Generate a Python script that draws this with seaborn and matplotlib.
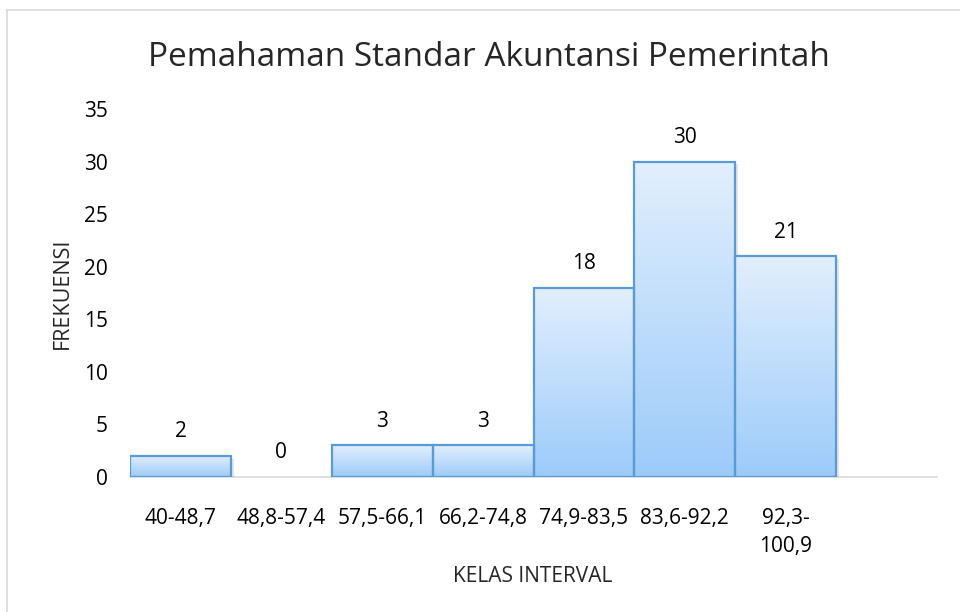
"""
bar chart of frequency per interval class with gradient bars
"""

import numpy as np
import pandas as pd
import seaborn as sns
from matplotlib import pyplot as plt
from matplotlib.colors import LinearSegmentedColormap
from matplotlib.lines import Line2D

# data
kelas = ["40-48,7", "48,8-57,4", "57,5-66,1", "66,2-74,8",
         "74,9-83,5", "83,6-92,2", "92,3-\n100,9"]
frekuensi = [2, 0, 3, 3, 18, 30, 21]
y_ticks = [0, 5, 10, 15, 20, 25, 30, 35]

sns.set_style("white")
plt.rcParams['font.family'] = ['Open Sans', 'DejaVu Sans']


def main():
    df = pd.DataFrame({"kelas": kelas, "frekuensi": frekuensi})

    fig = plt.figure(figsize=(9.6, 6.12), dpi=100)
    ax = fig.add_axes([130 / 960, 1 - 477 / 612, (937 - 130) / 960,
                       (477 - 109) / 612])

    sns.barplot(data=df, x="kelas", y="frekuensi", width=1.0,
                color="#BDDCFB", edgecolor="#5B9BD5", linewidth=1.6, ax=ax)

    ax.set_xlim(-0.5, 7.5)
    ax.set_ylim(0, 35)
    ax.set_yticks(y_ticks)

    # gradient fill inside each bar
    cmap = LinearSegmentedColormap.from_list("grad", ["#E2EFFD", "#9CCBFA"])
    grad = np.linspace(0, 1, 256).reshape(-1, 1)
    for patch in list(ax.patches):
        x0 = patch.get_x()
        w = patch.get_width()
        h = patch.get_height()
        if h <= 0:
            # empty class: no outline
            patch.set_visible(False)
            continue
        # soft shadow
        ax.add_patch(plt.Rectangle((x0 + 0.03, -0.25), w, h, facecolor="#000000",
                                   alpha=0.10, edgecolor="none", zorder=1))
        im = ax.imshow(grad, cmap=cmap, aspect="auto", origin="upper",
                       extent=[x0, x0 + w, 0, h], zorder=2)
        im.set_clip_path(patch)
        patch.set_facecolor("none")
        patch.set_zorder(3)

    # value labels
    for i, v in enumerate(frekuensi):
        ax.text(i, v + 2.3, str(v), ha="center", va="center",
                fontsize=15, color="#000000")

    for side in ["top", "right", "left"]:
        ax.spines[side].set_visible(False)
    ax.spines["bottom"].set_color("#D9D9D9")
    ax.spines["bottom"].set_linewidth(1.2)
    ax.spines["bottom"].set_zorder(0)

    ax.tick_params(axis="both", length=0, labelsize=15, colors="#000000")
    ax.tick_params(axis="x", pad=22)
    ax.tick_params(axis="y", pad=16)
    for lbl in ax.get_xticklabels():
        lbl.set_linespacing(1.45)
    ax.set_xlabel("")
    ax.set_ylabel("")

    fig.text(62 / 960, 1 - 293 / 612, "FREKUENSI", rotation=90,
             ha="center", va="center", fontsize=15.5)
    fig.text(533 / 960, 1 - 577 / 612, "KELAS INTERVAL",
             ha="center", va="center", fontsize=15)
    fig.text(489 / 960, 1 - 57 / 612, "Pemahaman Standar Akuntansi Pemerintah",
             ha="center", va="center", fontsize=24)

    # light chart border
    fig.add_artist(Line2D([7 / 960, 1], [1 - 10 / 612] * 2,
                          color="#D9D9D9", lw=1.2))
    fig.add_artist(Line2D([7 / 960] * 2, [0, 1 - 10 / 612],
                          color="#D9D9D9", lw=1.2))

    fig.savefig("out.png", dpi=100)


if __name__ == "__main__":
    main()
